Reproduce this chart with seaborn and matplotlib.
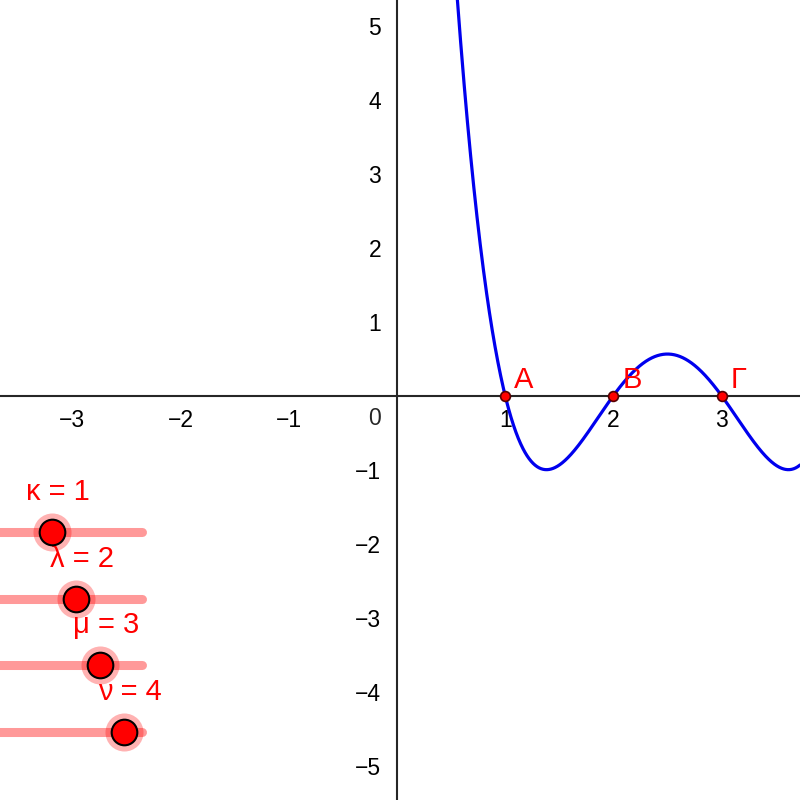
import numpy as np
import pandas as pd
import matplotlib
matplotlib.use("Agg")
import matplotlib.pyplot as plt
import seaborn as sns

# parametros dos controles deslizantes (raizes do polinomio)
slider_names = ["κ", "λ", "μ", "ν"]
slider_values = [1, 2, 3, 4]
point_labels = ["Α", "Β", "Γ"]
x_ticks = [-3, -2, -1, 1, 2, 3]
y_ticks = [-5, -4, -3, -2, -1, 1, 2, 3, 4, 5]

sns.set_style("white")
plt.rcParams["font.family"] = ["Liberation Sans", "DejaVu Sans"]

RED = "#ff0000"
BLUE = "#0000ee"

fig = plt.figure(figsize=(8, 8), dpi=100)
ax = fig.add_axes([0, 0, 1, 1])
ax.set_xlim(-3.669, 3.725)
ax.set_ylim(-5.464, 5.347)

# grafico de f(x) = (x-k)(x-l)(x-m)(x-n)
xs = np.linspace(-3.669, 3.725, 2000)
ys = np.ones_like(xs)
for r in slider_values:
    ys = ys * (xs - r)
curva = pd.DataFrame({"x": xs, "y": ys})
sns.lineplot(data=curva, x="x", y="y", color=BLUE, lw=2.3, ax=ax, sort=False, zorder=3)

# pontos A, B, Γ
pontos = pd.DataFrame({"x": slider_values[:3], "y": [0, 0, 0]})
sns.scatterplot(data=pontos, x="x", y="y", color=RED, edgecolor="#550000", linewidth=1.2,
                s=50, ax=ax, zorder=5, clip_on=False)
for lab, px in zip(point_labels, pontos["x"]):
    ax.annotate(lab, (px, 0), xytext=(9, 8), textcoords="offset pixels",
                color=RED, fontsize=21, ha="left", va="baseline", zorder=6)

# eixos no zero
for s in ["top", "right"]:
    ax.spines[s].set_visible(False)
ax.spines["left"].set_position("zero")
ax.spines["bottom"].set_position("zero")
ax.spines["left"].set_linewidth(1.5)
ax.spines["bottom"].set_linewidth(1.5)
ax.set_xticks(x_ticks)
ax.set_yticks(y_ticks)
ax.tick_params(direction="out", length=4.3, width=1.3, labelsize=16.5, colors="black")
ax.tick_params(axis="y", pad=7)
ax.tick_params(axis="x", pad=5)
ax.set_xlabel("")
ax.set_ylabel("")
ax.text(-0.208, -0.315, "0", ha="center", va="center", fontsize=16.5)

# controles deslizantes
sl = fig.add_axes([-0.115, 0, 0.3, 1])
sl.set_xlim(-5, 5)
sl.set_ylim(4.02, -7.98)
sl.axis("off")
sl.patch.set_alpha(0)
for i, (nome, val) in enumerate(zip(slider_names, slider_values)):
    sl.plot([-6, 4.75], [i, i], color=RED, alpha=0.4, lw=6.5, solid_capstyle="round", clip_on=False)
    sl.scatter([val], [i], s=750, color=RED, alpha=0.3, lw=0, zorder=3, clip_on=False)
    sl.scatter([val], [i], s=340, color=RED, edgecolor="black", linewidth=1.5, zorder=4, clip_on=False)
    sl.annotate(f"{nome} = {val}", (val, i), xytext=(6, 40), textcoords="offset pixels",
                color=RED, fontsize=21, ha="center", va="center")

fig.savefig("out.png", dpi=100)
